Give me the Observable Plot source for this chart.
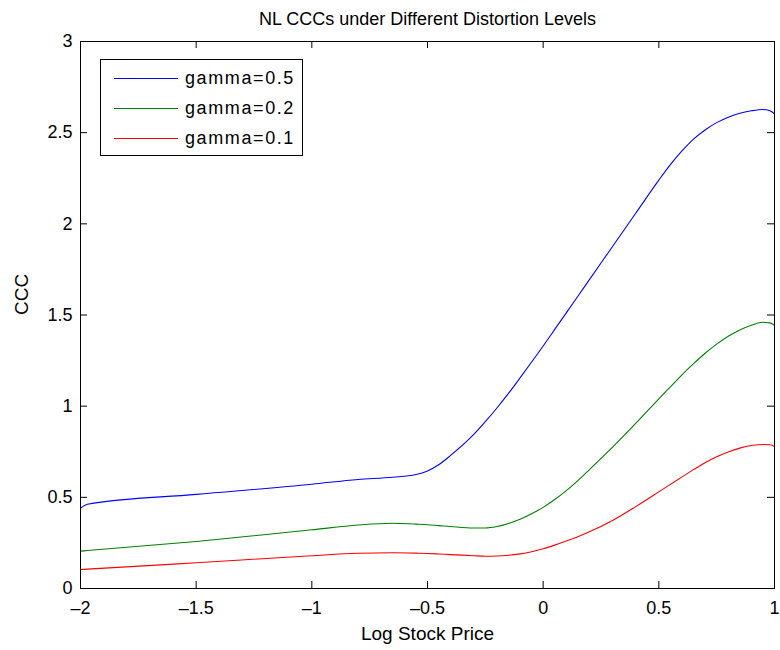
<!DOCTYPE html>
<html>
<head>
<meta charset="utf-8">
<script src="https://cdn.jsdelivr.net/npm/d3@7"></script>
<script src="https://cdn.jsdelivr.net/npm/@observablehq/plot@0.6"></script>
<style>
  body { margin: 0; background: #fff; }
  #wrap { position: relative; width: 780px; height: 650px; font-family: "Liberation Sans", Arial, sans-serif; }
  #legend {
    position: absolute; left: 100px; top: 59px; width: 201px; height: 95px;
    border: 1px solid #000; background: #fff;
  }
  #legend .row { position: absolute; left: 0; height: 30px; display: flex; align-items: center; }
  #legend svg { display: block; }
  #legend span { font-size: 18px; letter-spacing: 1.6px; color: #000; margin-left: 7px; }
</style>
</head>
<body>
<div id="wrap"><div id="chart"></div><div id="legend"></div></div>
<script>
// Log stock price grid shared by the three curves
const logPrice = [-2, -1.97, -1.5, -1, -0.8, -0.65, -0.55, -0.5, -0.45, -0.4, -0.3, -0.25, -0.2, -0.15, -0.1, -0.05,
  0, 0.05, 0.1, 0.15, 0.2, 0.3, 0.4, 0.5, 0.55, 0.6, 0.65, 0.7, 0.75, 0.8, 0.85, 0.9, 0.95, 0.98, 1.0];

// CCC values for each distortion level
const cccGamma05 = [0.44, 0.462, 0.516, 0.572, 0.598, 0.61, 0.625, 0.645, 0.68, 0.73, 0.845, 0.915, 0.99, 1.07, 1.155, 1.242,
  1.33, 1.421, 1.512, 1.603, 1.694, 1.876, 2.058, 2.24, 2.325, 2.40, 2.465, 2.515, 2.555, 2.585, 2.607, 2.62, 2.627, 2.62, 2.604];
const cccGamma02 = [0.205, 0.208, 0.258, 0.322, 0.348, 0.358, 0.353, 0.35, 0.345, 0.34, 0.332, 0.332, 0.34, 0.357, 0.38, 0.41,
  0.445, 0.488, 0.537, 0.592, 0.652, 0.775, 0.905, 1.04, 1.106, 1.172, 1.233, 1.29, 1.34, 1.383, 1.418, 1.444, 1.46, 1.457, 1.443];
const cccGamma01 = [0.104, 0.106, 0.141, 0.18, 0.193, 0.196, 0.194, 0.192, 0.189, 0.186, 0.18, 0.177, 0.178, 0.182, 0.19, 0.202,
  0.218, 0.238, 0.26, 0.284, 0.311, 0.373, 0.449, 0.53, 0.571, 0.612, 0.652, 0.69, 0.722, 0.749, 0.77, 0.784, 0.79, 0.788, 0.779];

const seriesNames = ["gamma=0.5", "gamma=0.2", "gamma=0.1"];
const seriesColors = ["#0000ff", "#008000", "#ff0000"];
const seriesValues = [cccGamma05, cccGamma02, cccGamma01];

const xTicks = [-2, -1.5, -1, -0.5, 0, 0.5, 1];
const yTicks = [0, 0.5, 1, 1.5, 2, 2.5, 3];

const rows = seriesNames.flatMap((name, i) =>
  logPrice.map((x, j) => ({ series: name, x, y: seriesValues[i][j] })));

const W = 780, H = 650, mL = 80, mR = 6, mT = 41, mB = 62;
const innerW = W - mL - mR, innerH = H - mT - mB;
const tickLen = 7;
const font = "Liberation Sans, Arial, sans-serif";
const fmt = d => (d < 0 ? "\u2013" : "") + String(Math.abs(d));

const chart = Plot.plot({
  width: W, height: H,
  marginLeft: mL, marginRight: mR, marginTop: mT, marginBottom: mB,
  style: { fontFamily: font, background: "#fff", color: "#000" },
  x: { domain: [-2, 1] },
  y: { domain: [0, 3] },
  color: { domain: seriesNames, range: seriesColors },
  marks: [
    // tick labels
    Plot.axisX(xTicks, { tickSize: 0, tickPadding: 13, fontSize: 18, tickFormat: fmt, label: null }),
    Plot.axisY(yTicks, { tickSize: 0, tickPadding: 8, fontSize: 18, tickFormat: fmt, label: null }),
    // inward ticks on all four sides
    Plot.tickX(xTicks, { x: d => d, insetTop: innerH - tickLen, stroke: "#000" }),
    Plot.tickX(xTicks, { x: d => d, insetBottom: innerH - tickLen, stroke: "#000" }),
    Plot.tickY(yTicks, { y: d => d, insetRight: innerW - tickLen, stroke: "#000" }),
    Plot.tickY(yTicks, { y: d => d, insetLeft: innerW - tickLen, stroke: "#000" }),
    Plot.line(rows, { x: "x", y: "y", z: "series", stroke: "series", strokeWidth: 1.1, curve: "monotone-x" }),
    Plot.frame({ stroke: "#000", strokeWidth: 1 }),
    // title and axis labels
    Plot.text(["NL CCCs under Different Distortion Levels"], {
      text: d => d, frameAnchor: "top", lineAnchor: "bottom", dy: -17, fontSize: 18, fill: "#000"
    }),
    Plot.text(["Log Stock Price"], {
      text: d => d, frameAnchor: "bottom", lineAnchor: "bottom", dy: 51, fontSize: 19, fill: "#000",
      letterSpacing: "1.1px"
    }),
    Plot.text(["CCC"], {
      text: d => d, frameAnchor: "left", lineAnchor: "bottom", rotate: -90, dx: -53, fontSize: 19, fill: "#000"
    })
  ]
});
document.getElementById("chart").appendChild(chart);

// legend box inside the axes
const legend = document.getElementById("legend");
seriesNames.forEach((name, i) => {
  const row = document.createElement("div");
  row.className = "row";
  row.style.top = (3 + i * 30) + "px";
  row.innerHTML = `<svg width="77" height="30"><line x1="13" x2="77" y1="15.5" y2="15.5" stroke="${seriesColors[i]}" stroke-width="1"/></svg><span>${name}</span>`;
  legend.appendChild(row);
});
</script>
</body>
</html>
